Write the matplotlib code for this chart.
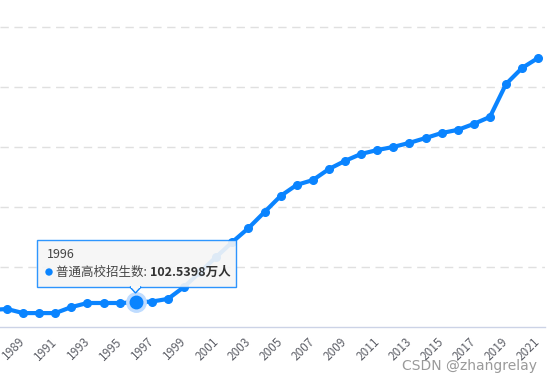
import matplotlib
matplotlib.use("Agg")
import matplotlib.pyplot as plt
from matplotlib.patches import Rectangle, Polygon, Circle

plt.rcParams['font.family'] = ['Noto Sans CJK SC', 'DejaVu Sans']

# 普通高校招生数（万人），按年份
years = list(range(1987, 2022))
enroll = [71, 75, 58, 58, 58, 83, 100, 100, 100, 102.5398, 106, 117, 167, 229,
          292, 354, 412, 479, 546, 592, 612, 658, 692, 721, 737, 750, 767, 787,
          808, 821, 846, 875, 1012, 1079, 1121]
tick_years = list(range(1989, 2022, 2))
grid_vals = [250, 500, 750, 1000, 1250]

hl_year = 1996
hl_value = 102.5398
series_name = '普通高校招生数'

W, H = 552, 385
fig = plt.figure(figsize=(W / 100, H / 100), dpi=100)
ax = fig.add_axes([0, 58 / H, 545 / W, 327 / H])

blue = '#0A84FF'
ax.plot(years, enroll, color=blue, lw=3, marker='o', ms=5.5,
        solid_capstyle='round', zorder=3)

# 高亮点
ax.plot([hl_year], [hl_value], 'o', ms=14, color='#BFDCFF', zorder=4)
ax.plot([hl_year], [hl_value], 'o', ms=9, color=blue, zorder=5)

ax.set_xlim(1987.565, 2021.42)
ax.set_ylim(0, 1362)
ax.set_yticks(grid_vals)
ax.set_yticklabels([])
ax.set_xticks(tick_years)
ax.set_xticklabels([str(y) for y in tick_years], rotation=45, ha='right',
                   va='center', rotation_mode='anchor', fontsize=8.5,
                   color='#5E6068')
ax.tick_params(axis='both', length=0)
ax.tick_params(axis='x', pad=9)
ax.grid(axis='y', color='#E0E0E0', linestyle=(0, (6, 4)), lw=1)
for s in ['top', 'right', 'left']:
    ax.spines[s].set_visible(False)
ax.spines['bottom'].set_color('#CCD3E6')
ax.spines['bottom'].set_linewidth(1)

# tooltip 图层（像素坐标，y 向下）
ov = fig.add_axes([0, 0, 1, 1], zorder=5)
ov.set_xlim(0, W)
ov.set_ylim(H, 0)
ov.axis('off')
ov.patch.set_alpha(0)

ov.add_patch(Rectangle((38, 241), 199, 47, facecolor='#D0D0D0', alpha=0.35,
                       edgecolor='none', zorder=0))
ov.add_patch(Rectangle((37, 240), 199, 47, facecolor='#F8F8F8', alpha=0.85,
                       edgecolor=blue, lw=1, zorder=1))
ov.add_patch(Polygon([(130, 287), (141, 287), (135.5, 293)], closed=True,
                     facecolor='#F8F8F8', edgecolor=blue, lw=1, zorder=2))
ov.add_patch(Rectangle((131, 286), 9, 2, facecolor='#F8F8F8',
                       edgecolor='none', zorder=3))

ov.text(47, 254, str(hl_year), fontsize=9, color='#464646',
        va='center', ha='left', zorder=4)
ov.add_patch(Circle((49, 272), 3, color=blue, zorder=4))
t1 = ov.text(56, 272, series_name + ': ', fontsize=9, color='#464646',
             va='center', ha='left', zorder=4)
ov.annotate(f'{hl_value:.4f}万人', xy=(1, 0.5), xycoords=t1, va='center',
            ha='left', fontsize=9, fontweight='bold', color='#333333',
            annotation_clip=False, zorder=4)

fig.text(537 / W, 1 - 366 / H, 'CSDN @zhangrelay', fontsize=10,
         family='DejaVu Sans', color='#9A9A9A', ha='right', va='center')

fig.savefig('out.png', dpi=100)
